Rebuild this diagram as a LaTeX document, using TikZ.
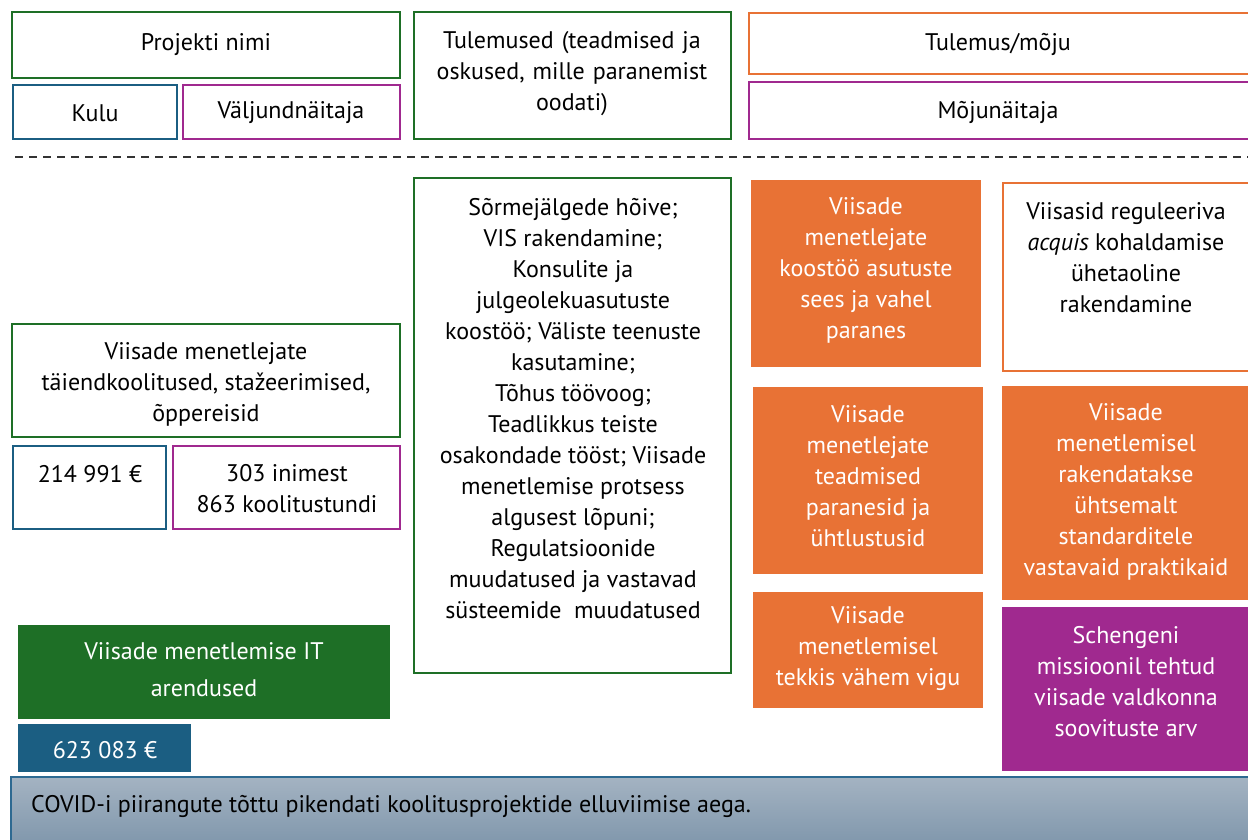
\documentclass[tikz,border=0pt]{standalone}
\usepackage{fontspec}
\setmainfont{PT Sans}
\definecolor{cgreen}{RGB}{30,111,38}
\definecolor{cblue}{RGB}{27,94,130}
\definecolor{cpurple}{RGB}{160,41,143}
\definecolor{corange}{RGB}{232,114,53}
\definecolor{bantop}{RGB}{164,179,194}
\definecolor{banbot}{RGB}{128,151,172}
\definecolor{banline}{RGB}{45,105,145}
\tikzset{
  frame/.style={draw=#1, line width=2.5pt, fill=white},
  solid box/.style={fill=#1, draw=none},
  txt/.style={inner sep=0pt, align=center, font=\fontsize{24}{31}\selectfont, text=black},
  wtxt/.style={txt, text=white},
}
\newcommand{\mybox}[6]{%
  \path[#6] (#2,#3) rectangle (#4,#5);
  \coordinate (#1) at ({(#2+#4)/2},{(#3+#5)/2});}
\begin{document}
\begin{tikzpicture}[x=1pt,y=-1pt]
\useasboundingbox (0,0) rectangle (1248,840);
% header
\mybox{hProj}{12}{12}{400}{78}{frame=cgreen}
\node[txt] (tProj) at (206,45) {Projekti nimi};
\mybox{hKulu}{13}{85}{177}{139}{frame=cblue}
\node[txt] (tKulu) at (95,113) {Kulu};
\mybox{hVal}{183}{85}{400}{139}{frame=cpurple}
\node[txt] (tVal) at (291,113) {Väljundnäitaja};
\mybox{hTul}{414}{12}{731}{139}{frame=cgreen}
\node[txt, text width=300pt] (tTul) at (572,74) {Tulemused (teadmised ja\\ oskused, mille paranemist\\ oodati)};
\mybox{hMoju}{749}{13}{1252}{74}{frame=corange}
\node[txt] (tMoju) at (998,44) {Tulemus/mõju};
\mybox{hMn}{749}{82}{1252}{139}{frame=cpurple}
\node[txt] (tMn) at (998,112) {Mõjunäitaja};
% dashed separator
\coordinate (dL) at (15,157);
\coordinate (dR) at (1248,157);
\draw[line width=2pt, dash pattern=on 8pt off 6pt, black!80] (dL) -- (dR);
% left column
\mybox{bKool}{12}{324}{400}{437}{frame=cgreen}
\node[txt] (tKool) at (206,384) {Viisade menetlejate\\ täiendkoolitused, stažeerimised,\\ õppereisid};
\mybox{bKulu1}{13}{446}{166}{529}{frame=cblue}
\node[txt] (tKulu1) at (90,474) {214 991 €};
\mybox{bVal1}{173}{446}{400}{529}{frame=cpurple}
\node[txt] (tVal1) at (287,489) {303 inimest\\ 863 koolitustundi};
\mybox{bIT}{18}{625}{390}{719}{solid box=cgreen}
\node[wtxt, font=\fontsize{24}{37}\selectfont] (tIT) at (204,670) {Viisade menetlemise IT\\ arendused};
\mybox{bKulu2}{18}{724}{191}{772}{solid box=cblue}
\node[wtxt] (tKulu2) at (105,750) {623 083 €};
% middle column
\mybox{bMid}{414}{178}{731}{673}{frame=cgreen}
\node[txt] (tMid) at (573,409) {Sõrmejälgede hõive;\\ VIS rakendamine;\\ Konsulite ja\\ julgeolekuasutuste\\ koostöö; Väliste teenuste\\ kasutamine;\\ Tõhus töövoog;\\ Teadlikkus teiste\\ osakondade tööst; Viisade\\ menetlemise protsess\\ algusest lõpuni;\\ Regulatsioonide\\ muudatused ja vastavad\\ süsteemide\ \ muudatused};
% outcome column 1
\mybox{bO1}{751}{180}{981}{367}{solid box=corange}
\node[wtxt] (tO1) at (866,270) {Viisade\\ menetlejate\\ koostöö asutuste\\ sees ja vahel\\ paranes};
\mybox{bO2}{753}{387}{983}{574}{solid box=corange}
\node[wtxt] (tO2) at (868,476) {Viisade\\ menetlejate\\ teadmised\\ paranesid ja\\ ühtlustusid};
\mybox{bO3}{753}{592}{983}{708}{solid box=corange}
\node[wtxt] (tO3) at (868,649) {Viisade\\ menetlemisel\\ tekkis vähem vigu};
% outcome column 2
\mybox{bI1}{1003}{183}{1252}{371}{frame=corange}
\node[txt] (tI1) at (1126,258) {Viisasid reguleeriva\\ \textit{acquis} kohaldamise\\ ühetaoline\\ rakendamine};
\mybox{bI2}{1002}{386}{1248}{600}{solid box=corange}
\node[wtxt] (tI2) at (1126,492) {Viisade\\ menetlemisel\\ rakendatakse\\ ühtsemalt\\ standarditele\\ vastavaid praktikaid};
\mybox{bI3}{1002}{607}{1248}{771}{solid box=cpurple}
\node[wtxt] (tI3) at (1126,682) {Schengeni\\ missioonil tehtud\\ viisade valdkonna\\ soovituste arv};
% bottom banner
\shade[top color=bantop, bottom color=banbot] (11,777) rectangle (1252,844);
\draw[banline, line width=1.5pt] (11,845) -- (11,777) -- (1252,777);
\node[txt, anchor=west] (tBan) at (31,806) {COVID-i piirangute tõttu pikendati koolitusprojektide elluviimise aega.};
\end{tikzpicture}
\end{document}
